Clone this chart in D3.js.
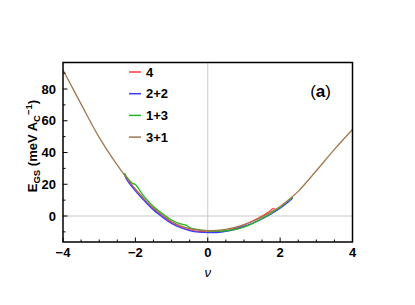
<!DOCTYPE html>
<html>
<head>
<meta charset="utf-8">
<script src="https://cdn.jsdelivr.net/npm/d3@7"></script>
<style>
  body { margin: 0; background: #fff; }
  svg { display: block; font-family: "Liberation Sans", Arial, sans-serif; }
</style>
</head>
<body>
<main></main>
<script>
// data
const seriesNames = ["4", "2+2", "1+3", "3+1"];
const seriesColors = ["#ff3b3b", "#3b3bff", "#22b822", "#a0784f"];

const xRed = [-2.3, -2.25, -2, -1.75, -1.5, -1.25, -1, -0.75, -0.5, -0.25, 0, 0.25, 0.5, 0.75, 1, 1.25, 1.5, 1.7, 1.8, 1.85];
const yRed = [26, 24, 16.5, 10, 4.5, 0, -4, -6.8, -8.7, -9.7, -10, -9.9, -9.2, -7.8, -5.6, -3, 0, 2.8, 4.6, 4.3];

const xBlue = [-2.3, -2.25, -2, -1.75, -1.5, -1.25, -1, -0.75, -0.5, -0.25, 0, 0.25, 0.5, 0.75, 1, 1.25, 1.5, 1.75, 2, 2.25, 2.35];
const yBlue = [26.5, 23.3, 15.8, 9.5, 3.8, -0.7, -4.7, -7.4, -9.2, -10.2, -10.5, -10.4, -9.7, -8.4, -6.6, -4.4, -1.8, 1.3, 4.9, 9.3, 11.3];

const xGreen = [-2.3, -2.25, -2.1, -2, -1.75, -1.5, -1.25, -1, -0.75, -0.6, -0.55, -0.5, -0.25, 0, 0.25, 0.5, 0.75, 1, 1.25, 1.5, 1.75, 2, 2.25, 2.35];
const yGreen = [27, 25, 21, 19.8, 12, 6, 1.5, -2.5, -5, -5.8, -6.5, -7.3, -8.6, -9.3, -9.5, -9.3, -8.6, -7, -4.6, -1.6, 1.8, 5.5, 10, 12];

const xBrown = [-4, -3.5, -3, -2.5, -2.25, -2, -1.75, -1.5, -1.25, -1, -0.75, -0.5, -0.25, 0, 0.25, 0.5, 0.75, 1, 1.25, 1.5, 1.75, 2, 2.25, 2.5, 3, 3.5, 4];
const yBrown = [92, 70.5, 49.5, 32, 24.3, 17, 10.7, 5, 0.5, -3.5, -6.2, -8, -8.9, -9.2, -9, -8.4, -7.2, -5.5, -3.3, -0.6, 2.5, 6, 10.5, 15.5, 28.5, 42, 54.5];

const xTickLabels = [-4, -2, 0, 2, 4];
const yTickLabels = [0, 20, 40, 60, 80];

const seriesX = [xRed, xBlue, xGreen, xBrown];
const seriesY = [yRed, yBlue, yGreen, yBrown];

// dimensions
const width = 415;
const height = 305;
const frame = { left: 63, right: 352.5, top: 62.5, bottom: 242 };

const svg = d3.select("main").append("svg")
	.attr("width", width)
	.attr("height", height);

// scales
const xScale = d3.scaleLinear().domain([-4, 4]).range([frame.left, frame.right]);
const yScale = d3.scaleLinear().domain([0, 80]).range([216, 89]);

svg.append("clipPath").attr("id", "clip")
	.append("rect")
	.attr("x", frame.left).attr("y", frame.top)
	.attr("width", frame.right - frame.left).attr("height", frame.bottom - frame.top);

// grid lines through zero
svg.append("line")
	.attr("x1", xScale(0)).attr("x2", xScale(0))
	.attr("y1", frame.top).attr("y2", frame.bottom)
	.attr("stroke", "#c8c8c8").attr("stroke-width", 1);
svg.append("line")
	.attr("x1", frame.left).attr("x2", frame.right)
	.attr("y1", yScale(0)).attr("y2", yScale(0))
	.attr("stroke", "#c8c8c8").attr("stroke-width", 1);

// curves, brown drawn last on top
const line = d3.line()
	.x(d => xScale(d[0]))
	.y(d => yScale(d[1]))
	.curve(d3.curveCatmullRom);

const plot = svg.append("g").attr("clip-path", "url(#clip)");
seriesNames.forEach((name, i) => {
	const pts = seriesX[i].map((x, j) => [x, seriesY[i][j]]);
	plot.append("path")
		.datum(pts)
		.attr("d", line)
		.attr("fill", "none")
		.attr("stroke", seriesColors[i])
		.attr("stroke-width", 1.3)
		.attr("stroke-linejoin", "round");
});

// frame
svg.append("rect")
	.attr("x", frame.left).attr("y", frame.top)
	.attr("width", frame.right - frame.left).attr("height", frame.bottom - frame.top)
	.attr("fill", "none").attr("stroke", "#000").attr("stroke-width", 1.5);

// ticks, inward
const xMinor = d3.range(-4, 4.01, 0.5);
svg.append("g").selectAll("line")
	.data(xMinor)
	.join("line")
	.attr("x1", d => xScale(d)).attr("x2", d => xScale(d))
	.attr("y1", frame.bottom)
	.attr("y2", d => frame.bottom - (Math.abs(d % 2) < 1e-6 ? 4.5 : 2.5))
	.attr("stroke", "#000").attr("stroke-width", 1);

const yMinor = d3.range(-10, 91, 10);
svg.append("g").selectAll("line")
	.data(yMinor)
	.join("line")
	.attr("y1", d => yScale(d)).attr("y2", d => yScale(d))
	.attr("x1", frame.left)
	.attr("x2", d => frame.left + (d % 20 === 0 ? 4.5 : 2.5))
	.attr("stroke", "#000").attr("stroke-width", 1);

// tick labels
svg.append("g").selectAll("text")
	.data(xTickLabels)
	.join("text")
	.attr("x", d => xScale(d))
	.attr("y", 257)
	.attr("text-anchor", "middle")
	.attr("font-size", 13).attr("font-weight", "bold")
	.text(d => d < 0 ? "\u2212" + Math.abs(d) : d);

svg.append("g").selectAll("text")
	.data(yTickLabels)
	.join("text")
	.attr("x", 56)
	.attr("y", d => yScale(d) + 4.5)
	.attr("text-anchor", "end")
	.attr("font-size", 13).attr("font-weight", "bold")
	.text(d => d);

// axis labels
svg.append("text")
	.attr("x", xScale(0)).attr("y", 277)
	.attr("text-anchor", "middle")
	.attr("font-size", 13).attr("font-style", "italic")
	.text("\u03bd");

const yLabel = svg.append("text")
	.attr("transform", "translate(37,146) rotate(-90)")
	.attr("text-anchor", "middle")
	.attr("font-size", 13).attr("font-weight", "bold");
yLabel.append("tspan").text("E");
yLabel.append("tspan").attr("font-size", 9.5).attr("dy", 3).text("GS");
yLabel.append("tspan").attr("dy", -3).text(" (meV A");
yLabel.append("tspan").attr("font-size", 9.5).attr("dy", 3).text("C");
yLabel.append("tspan").attr("font-size", 9.5).attr("dy", -8).text("\u22121");
yLabel.append("tspan").attr("dy", 5).text(")");

// panel tag
svg.append("text")
	.attr("x", 331).attr("y", 97)
	.attr("text-anchor", "end")
	.attr("font-size", 17)
	.html("<tspan font-weight='normal'>(</tspan><tspan font-weight='bold'>a</tspan><tspan font-weight='normal'>)</tspan>");

// legend
const legend = svg.append("g");
seriesNames.forEach((name, i) => {
	const y = 72 + i * 21.7;
	legend.append("line")
		.attr("x1", 129).attr("x2", 141)
		.attr("y1", y).attr("y2", y)
		.attr("stroke", seriesColors[i]).attr("stroke-width", 1.5);
	legend.append("text")
		.attr("x", 146).attr("y", y + 4.5)
		.attr("font-size", 13).attr("font-weight", "bold")
		.text(name);
});
</script>
</body>
</html>
